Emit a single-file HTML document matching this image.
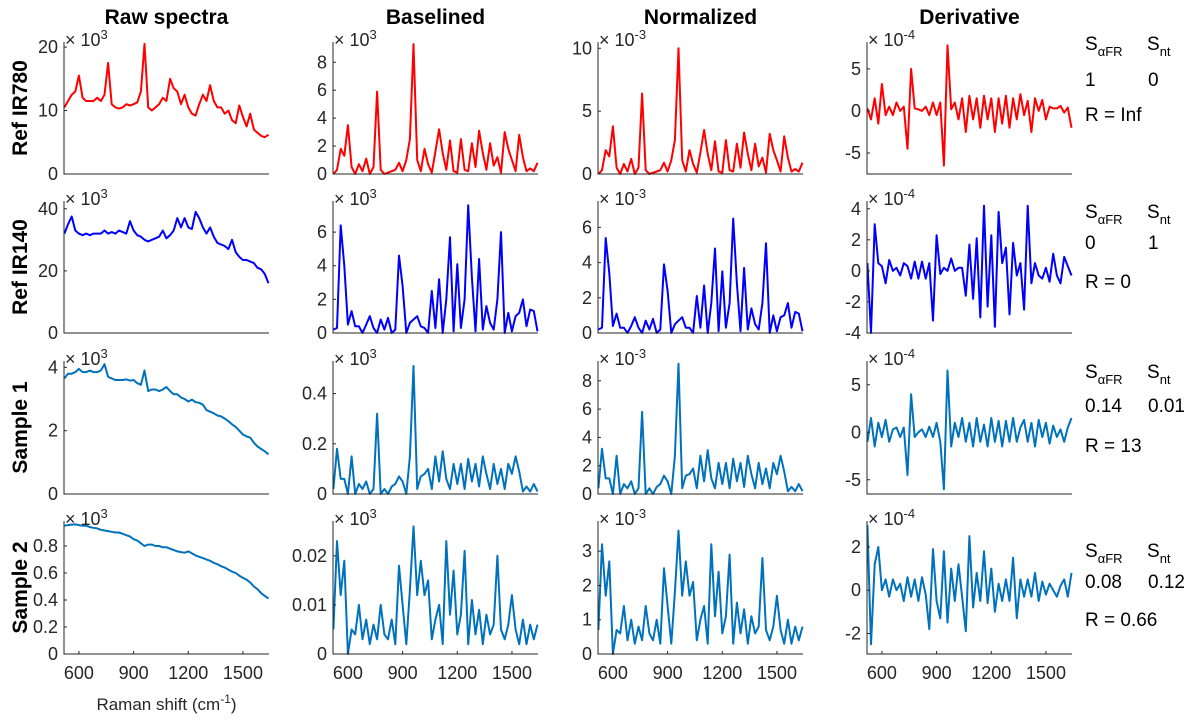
<!DOCTYPE html>
<html><head><meta charset="utf-8"><style>
body{margin:0;background:#fff;}
svg{display:block;font-family:"Liberation Sans",sans-serif;}
</style></head><body>
<svg id="fig" width="1200" height="724" viewBox="0 0 1200 724" xmlns="http://www.w3.org/2000/svg"></svg>
<script>
const shifts=[520,540,560,580,600,620,640,660,680,700,720,740,760,780,800,820,840,860,880,900,920,940,960,980,1000,1020,1040,1060,1080,1100,1120,1140,1160,1180,1200,1220,1240,1260,1280,1300,1320,1340,1360,1380,1400,1420,1440,1460,1480,1500,1520,1540,1560,1580,1600,1620,1640];
const xTicks=[600,900,1200,1500];
const colTitles=["Raw spectra","Baselined","Normalized","Derivative"];
const rowLabels=["Ref IR780","Ref IR140","Sample 1","Sample 2"];
const sAlpha=["1","0","0.14","0.08"];
const sNt=["0","1","0.01","0.12"];
const rVals=["Inf","0","13","0.66"];
// row 1
const raw1=[10.5,11.5,12.5,13,15.5,12,11.5,11.5,11.5,12,11.5,12.5,17.5,11,10.5,10.3,10.5,11,10.8,11,11.3,13,20.5,10.5,10,10.5,11,12,11.5,15,13.5,13,11,12.5,10.5,9.5,9.2,11,12.5,11.5,14,11.5,10.5,10.5,9.5,10,8.5,8,10.8,9,7.5,9.5,7,6.5,6,5.8,6.2];
const base1=[0,0.3,1.8,1.3,3.5,0.5,0,0.7,0.2,1.1,0,0.5,5.9,0.3,0,0.1,0.2,0.3,0.8,0.2,1,2.5,9.3,1,0.2,1.8,0.7,0.1,1.6,3.2,1.5,0.3,2.4,0.2,0.1,2.5,0.3,0.2,2.2,0.5,3.1,1.5,0.3,2.2,0.6,1.2,0.1,3,1.8,1,0.2,2.8,1.2,0.2,0.4,0.2,0.8];
const norm1=[0,0.3,1.9,1.4,3.8,0.5,0,0.8,0.2,1.2,0,0.5,6.4,0.3,0,0.1,0.2,0.3,0.9,0.2,1.1,2.7,10,1.1,0.2,1.9,0.8,0.1,1.7,3.5,1.6,0.3,2.6,0.2,0.1,2.7,0.3,0.2,2.4,0.5,3.3,1.6,0.3,2.4,0.6,1.3,0.1,3.2,1.9,1.1,0.2,3,1.3,0.2,0.4,0.2,0.9];
const deriv1=[0.3,-1,1.5,-1.5,3.2,-0.5,0.5,-0.5,1,0,0.5,-4.5,5,0.3,0.2,0,0.5,-0.5,1,-0.5,1,-6.5,7.8,0.2,1,-1,1.5,-2.5,1.8,-1,1.5,-2,1.8,-1,1.5,-2.5,1.5,-1.5,1.8,-2,1.5,-1,2,-0.5,1.2,-2.5,1.5,0,1.3,-1,0.5,0.3,0.3,0.6,-0.2,0.4,-2];
// row 2
const raw2=[32,35,37.5,33,32,31.5,32,31.5,32,32,32,33,32,32.5,32,33,32.5,32,36,33,31.5,31,30,29.5,30,30.5,31,33,30.5,31.5,33,37,34,37,34,33.5,39,37,34,32,34,31,29,28.5,28,27,30,26,24.5,23.5,23.5,23,22.5,21,20.5,19,16];
const base2=[0.2,0.3,6.4,4,0.5,1.3,0.4,0.4,0,0.5,1,0.3,0,0.8,0.2,0.9,0,0.2,4.6,2.8,0,0.6,0.8,1,0.4,0.3,0,2.5,0.3,3.2,0,2,5.7,0.1,4.1,0.3,2,7.6,3.3,0.1,4.4,0.2,1.6,0.6,0.2,2,6,0,1.2,0.1,1,1.2,2,0.4,1.4,1.3,0.1];
const norm2=[0.2,0.3,5.4,3.4,0.4,1.1,0.3,0.3,0,0.4,0.9,0.3,0,0.7,0.2,0.8,0,0.2,3.9,2.4,0,0.5,0.7,0.9,0.3,0.3,0,2.1,0.3,2.7,0,1.7,4.8,0.1,3.5,0.3,1.7,6.5,2.8,0.1,3.7,0.2,1.4,0.5,0.2,1.7,5.1,0,1,0.1,0.9,1,1.7,0.3,1.2,1.1,0.1];
const deriv2=[0.5,-4,3,0.5,0.3,-0.8,0.7,0,0.2,-0.3,0.5,0.3,-0.5,0.6,-0.5,0.6,-0.5,0.5,-3.2,2.3,-0.2,0.2,0,0.8,0,0.2,0.2,-1.6,1.7,-1.8,2.1,-3,4.2,-2.3,2.3,-3.6,3.8,0.5,1.5,-2.8,1.8,-0.3,0.5,-2.5,4.2,-0.8,0.5,-0.3,-0.5,0.2,-0.7,1.1,-0.3,-0.8,0.9,0.3,-0.3];
// row 3
const raw3=[3.65,3.8,3.8,3.85,3.95,3.85,3.85,3.9,3.85,3.85,3.9,4.1,3.7,3.65,3.6,3.6,3.6,3.62,3.58,3.6,3.5,3.45,3.9,3.25,3.3,3.3,3.25,3.3,3.38,3.25,3.15,3.15,3.05,3.0,2.92,2.98,2.9,2.88,2.82,2.65,2.6,2.55,2.48,2.45,2.38,2.3,2.2,2.12,2.0,1.88,1.82,1.78,1.62,1.5,1.42,1.35,1.25];
const base3=[0.02,0.18,0.06,0.06,0,0.15,0,0.04,0.02,0.05,0,0.02,0.32,0,0.02,0,0.03,0.04,0.07,0.05,0,0.15,0.51,0.02,0.07,0.08,0.1,0.02,0.15,0.05,0.17,0.06,0.02,0.12,0.04,0.12,0.02,0.14,0.05,0.12,0.03,0.15,0.08,0.02,0.12,0.04,0.1,0.02,0.12,0.08,0.15,0.09,0.01,0.03,0.01,0.04,0.01];
const norm3=[0.4,3.2,1.1,1.1,0,2.7,0,0.7,0.4,0.9,0,0.4,5.8,0,0.4,0,0.5,0.7,1.3,0.9,0,2.7,9.2,0.4,1.3,1.4,1.8,0.4,2.7,0.9,3.1,1.1,0.4,2.2,0.7,2.2,0.4,2.5,0.9,2.2,0.5,2.7,1.4,0.4,2.2,0.7,1.8,0.4,2.2,1.4,2.7,1.6,0.2,0.5,0.2,0.7,0.2];
const deriv3=[-1,1.5,-1.5,1,-0.5,1.3,-1,0.3,0.5,-0.5,0.5,-4.5,4,-0.5,0,0.3,-0.5,0.6,-0.5,1,-1,-6,6.5,-1.5,1,-0.5,1.5,-1,1,-1.5,1.5,-1,0.8,-1.5,1.5,-1,1.2,-1.5,1.2,-1,1.5,-1,0.5,1.3,-1,1,-1.5,1.3,-0.5,1,-1.2,0.7,-0.5,0.3,-1,0.5,1.5];
// row 4
const raw4=[0.95,0.955,0.958,0.96,0.955,0.95,0.95,0.94,0.935,0.93,0.92,0.915,0.91,0.905,0.9,0.9,0.89,0.88,0.87,0.85,0.84,0.82,0.8,0.81,0.81,0.8,0.8,0.79,0.79,0.78,0.77,0.76,0.755,0.75,0.76,0.745,0.73,0.72,0.71,0.7,0.69,0.675,0.665,0.65,0.64,0.625,0.61,0.6,0.58,0.565,0.55,0.53,0.5,0.48,0.45,0.43,0.41];
const base4=[0.005,0.023,0.012,0.019,0,0.005,0.004,0.01,0.003,0.007,0.002,0.006,0.003,0.01,0.004,0.003,0.007,0.002,0.018,0.01,0.002,0.013,0.026,0.012,0.019,0.012,0.015,0.003,0.007,0.01,0.002,0.023,0.008,0.017,0.004,0.008,0.021,0.002,0.011,0.004,0.009,0.002,0.008,0.004,0.006,0.02,0.005,0.003,0.006,0.012,0.005,0.002,0.007,0.002,0.006,0.003,0.006];
const norm4=[0.7,3.2,1.7,2.7,0,0.7,0.6,1.4,0.4,1,0.3,0.8,0.4,1.4,0.6,0.4,1,0.3,2.5,1.4,0.3,1.8,3.6,1.7,2.7,1.7,2.1,0.4,1,1.4,0.3,3.2,1.1,2.4,0.6,1.1,2.9,0.3,1.5,0.6,1.3,0.3,1.1,0.6,0.8,2.8,0.7,0.4,0.8,1.7,0.7,0.3,1,0.3,0.8,0.4,0.8];
const deriv4=[3,-2.5,1.2,2,0,0.5,-0.3,0.5,0,0.3,-0.5,0.6,-0.3,0.5,-0.5,0.6,-0.2,-1.8,1.9,-0.5,-1.3,1.8,-1.5,1,-0.5,1.2,-0.3,-1.9,2.5,-0.8,0.8,-0.5,1.8,-0.6,1,-1,0.3,-0.5,0.5,-0.5,1.5,-1.3,0.5,-0.3,0.5,-0.3,0.8,-0.5,0.4,-0.2,0.3,0,-0.3,0.2,0.5,-0.3,0.8];

const NS="http://www.w3.org/2000/svg";
const svg=document.getElementById("fig");
function mk(tag,attrs,parent){const e=document.createElementNS(NS,tag);for(const k in attrs)e.setAttribute(k,attrs[k]);(parent||svg).appendChild(e);return e;}

const colX=[64,333,598,867];const W=205;
const rowTop=[42,201,361,521];const rowBot=[174,333,494,654];
const X0=518,X1=1643;
const rowColors=["#ff0000","#0000ff","#0072bd","#0072bd"];
const panels=[
 [raw1,0,20.8,[0,10,20],["0","10","20"],"3"],[base1,0,9.45,[0,2,4,6,8],["0","2","4","6","8"],"3"],[norm1,0,10.5,[0,5,10],["0","5","10"],"-3"],[deriv1,-7.5,8.2,[-5,0,5],["-5","0","5"],"-4"],
 [raw2,0,42.5,[0,20,40],["0","20","40"],"3"],[base2,0,7.85,[0,2,4,6],["0","2","4","6"],"3"],[norm2,0,7.5,[0,2,4,6],["0","2","4","6"],"-3"],[deriv2,-4,4.5,[-4,-2,0,2,4],["-4","-2","0","2","4"],"-4"],
 [raw3,0,4.2,[0,2,4],["0","2","4"],"3"],[base3,0,0.53,[0,0.2,0.4],["0","0.2","0.4"],"3"],[norm3,0,9.4,[0,2,4,6,8],["0","2","4","6","8"],"-3"],[deriv3,-6.5,7.5,[-5,0,5],["-5","0","5"],"-4"],
 [raw4,0,0.985,[0,0.2,0.4,0.6,0.8],["0","0.2","0.4","0.6","0.8"],"3"],[base4,0,0.0271,[0,0.01,0.02],["0","0.01","0.02"],"3"],[norm4,0,3.88,[0,1,2,3],["0","1","2","3"],"-3"],[deriv4,-2.95,3.2,[-2,0,2],["-2","0","2"],"-4"]
];

colTitles.forEach((t,c)=>{
 const e=mk("text",{x:colX[c]+W/2,y:24,"text-anchor":"middle","font-size":21,"font-weight":"bold",fill:"#000"});
 e.textContent=t;
 
 
});
rowLabels.forEach((t,r)=>{
 const cy=(rowTop[r]+rowBot[r])/2;
 const e=mk("text",{x:0,y:0,transform:`translate(27,${cy}) rotate(-90)`,"text-anchor":"middle","font-size":21,"font-weight":"bold",fill:"#000"});
 e.textContent=t;
 
 
});

panels.forEach((p,i)=>{
 const r=Math.floor(i/4),c=i%4;
 const [vals,ymin,ymax,ticks,tickLbl,expo]=p;
 const L=colX[c],R=L+W,T=rowTop[r],B=rowBot[r];
 const xs=v=>L+(v-X0)/(X1-X0)*W;
 const ys=v=>B-(v-ymin)/(ymax-ymin)*(B-T);
 const g=mk("g",{});
 
 
 let d="";
 vals.forEach((v,k)=>{d+=(k?"L":"M")+xs(shifts[k]).toFixed(1)+","+ys(v).toFixed(1);});
 const line=mk("path",{d:d,fill:"none",stroke:rowColors[r],"stroke-width":2,"stroke-linejoin":"round"},g);
 
 
 const ax=mk("path",{d:`M${L},${T}V${B}H${R}`,fill:"none",stroke:"#262626","stroke-width":1},g);
 
 
 ticks.forEach((tv,k)=>{
  const y=ys(tv);
  mk("line",{x1:L,x2:L+3,y1:y,y2:y,stroke:"#262626","stroke-width":1},g);
  const tl=mk("text",{x:L-6,y:y+6,"text-anchor":"end","font-size":18,fill:"#262626"},g);
  tl.textContent=tickLbl[k];
  
  
 });
 const ex=mk("text",{x:L+1,y:T+4,"font-size":18,fill:"#262626"},g);
 ex.innerHTML='× 10<tspan dy="-7" font-size="13">'+expo+'</tspan>';
 
 
 if(r===3){
  xTicks.forEach(tv=>{
   const x=xs(tv);
   mk("line",{x1:x,x2:x,y1:B,y2:B-3,stroke:"#262626","stroke-width":1},g);
   const tl=mk("text",{x:x,y:B+25,"text-anchor":"middle","font-size":18,fill:"#262626"},g);
   tl.textContent=tv;
   
   
  });
 }
});

const xl=mk("text",{x:colX[0]+W/2,y:710,"text-anchor":"middle","font-size":17,fill:"#262626"});
xl.innerHTML='Raman shift (cm<tspan dy="-7" font-size="12">-1</tspan><tspan dy="7">)</tspan>';



const sBase=[50,218,378,557],vBase=[86,249,412,588],rBase=[121,288,452,626];
for(let r=0;r<4;r++){
 const g=mk("g",{"font-size":19,fill:"#000"});
 
 
 const s1=mk("text",{x:1085,y:sBase[r]},g);
 s1.innerHTML='S<tspan dy="6" font-size="13">αFR</tspan>';
 const s2=mk("text",{x:1147,y:sBase[r]},g);
 s2.innerHTML='S<tspan dy="6" font-size="13">nt</tspan>';
 const v1=mk("text",{x:1085,y:vBase[r]},g);v1.textContent=sAlpha[r];
 const v2=mk("text",{x:1148,y:vBase[r]},g);v2.textContent=sNt[r];
 const rv=mk("text",{x:1085,y:rBase[r]},g);rv.textContent="R = "+rVals[r];
}
</script>
</body></html>
